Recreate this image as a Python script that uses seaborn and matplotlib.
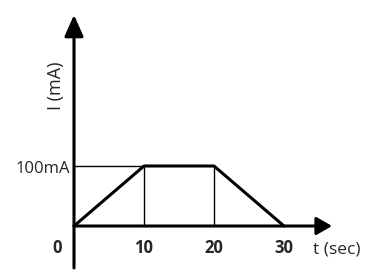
import matplotlib
matplotlib.use('Agg')
import matplotlib.pyplot as plt
import seaborn as sns
import pandas as pd

# ---- data ----
time_s = [0, 10, 20, 30]
current_mA = [0, 100, 100, 0]
x_ticks = [0, 10, 20, 30]
x_tick_labels = ['0', '10', '20', '30']
y_mark = 100
y_mark_label = '100mA'
x_label = 't (sec)'
y_label = 'I (mA)'

sns.set_style('white')
plt.rcParams['font.family'] = ['Open Sans', 'DejaVu Sans']

fig = plt.figure(figsize=(3.73, 2.73), dpi=100)
ax = fig.add_axes([0, 0, 1, 1])
ax.set_xlim(-10.571, 42.714)
ax.set_ylim(-78.33, 376.67)
ax.axis('off')

df = pd.DataFrame({'t': time_s, 'I': current_mA})
sns.lineplot(data=df, x='t', y='I', sort=False, estimator=None,
             color='black', lw=2.2, ax=ax)

# thin guide lines
ax.plot([0, time_s[1]], [y_mark, y_mark], color='black', lw=1.0)
for t, i in zip(time_s[1:3], current_mA[1:3]):
    ax.plot([t, t], [0, i], color='black', lw=1.0)

# axes with arrows
ax.annotate('', xy=(36.86, 0), xytext=(0, 0),
            arrowprops=dict(arrowstyle='-|>,head_length=0.47,head_width=0.27',
                            mutation_scale=20, lw=2.2, color='black',
                            shrinkA=0, shrinkB=0))
ax.annotate('', xy=(0, 351.7), xytext=(0, -70),
            arrowprops=dict(arrowstyle='-|>,head_length=0.65,head_width=0.29',
                            mutation_scale=20, lw=2.2, color='black',
                            shrinkA=0, shrinkB=0))

# labels
for xt, lab in zip(x_ticks, x_tick_labels):
    xpos = xt if xt != 0 else -2.36
    ax.text(xpos, -45, lab, ha='center', va='baseline',
            fontsize=12, fontweight='bold')
ax.text(34.1, -45, x_label, ha='left', va='baseline', fontsize=12.5)
ax.text(-0.57, 87.8, y_mark_label, ha='right', va='baseline', fontsize=12)
ax.text(-2.64, 233, y_label, ha='center', va='center', rotation=90, fontsize=13)

fig.savefig('out.png', dpi=100)
